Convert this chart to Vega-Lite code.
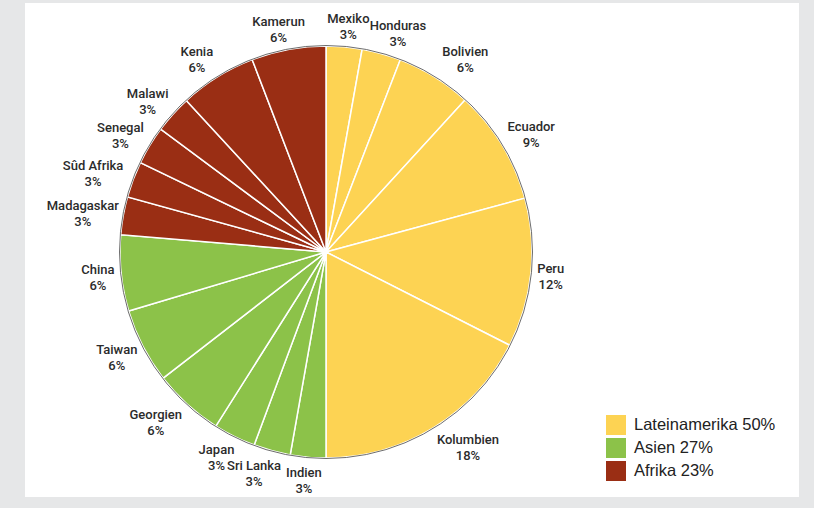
{
  "$schema": "https://vega.github.io/schema/vega-lite/v6.json",
  "width": 774,
  "height": 494,
  "autosize": {"type": "none"},
  "padding": {"left": 25, "top": 3, "right": 15, "bottom": 11},
  "background": "#e6e7e8",
  "view": {"fill": "white", "stroke": null},
  "config": {
    "font": "Liberation Sans"
  },
  "datasets": {
    "shares": [
      {"idx": 1, "land": "Mexiko", "label": "Mexiko\n3%", "share": 2.81, "region": "Lateinamerika 50%"},
      {"idx": 2, "land": "Honduras", "label": "Honduras\n3%", "share": 3.06, "region": "Lateinamerika 50%"},
      {"idx": 3, "land": "Bolivien", "label": "Bolivien\n6%", "share": 5.92, "region": "Lateinamerika 50%"},
      {"idx": 4, "land": "Ecuador", "label": "Ecuador\n9%", "share": 9.0, "region": "Lateinamerika 50%"},
      {"idx": 5, "land": "Peru", "label": "Peru\n12%", "share": 11.69, "region": "Lateinamerika 50%"},
      {"idx": 6, "land": "Kolumbien", "label": "Kolumbien\n18%", "share": 17.52, "region": "Lateinamerika 50%"},
      {"idx": 7, "land": "Indien", "label": "Indien\n3%", "share": 2.78, "region": "Asien 27%"},
      {"idx": 8, "land": "Sri Lanka", "label": "Sri Lanka\n3%", "share": 2.89, "region": "Asien 27%"},
      {"idx": 9, "land": "Japan", "label": "Japan\n3%", "share": 3.31, "region": "Asien 27%"},
      {"idx": 10, "land": "Georgien", "label": "Georgien\n6%", "share": 5.53, "region": "Asien 27%"},
      {"idx": 11, "land": "Taiwan", "label": "Taiwan\n6%", "share": 5.86, "region": "Asien 27%"},
      {"idx": 12, "land": "China", "label": "China\n6%", "share": 5.97, "region": "Asien 27%"},
      {"idx": 13, "land": "Madagaskar", "label": "Madagaskar\n3%", "share": 2.97, "region": "Afrika 23%"},
      {"idx": 14, "land": "Süd Afrika", "label": "Sûd Afrika\n3%", "share": 2.83, "region": "Afrika 23%"},
      {"idx": 15, "land": "Senegal", "label": "Senegal\n3%", "share": 3.03, "region": "Afrika 23%"},
      {"idx": 16, "land": "Malawi", "label": "Malawi\n3%", "share": 2.97, "region": "Afrika 23%"},
      {"idx": 17, "land": "Kenia", "label": "Kenia\n6%", "share": 6.03, "region": "Afrika 23%"},
      {"idx": 18, "land": "Kamerun", "label": "Kamerun\n6%", "share": 5.83, "region": "Afrika 23%"}
    ],
    "ring": [{"k": 1}]
  },
  "layer": [
    {
      "data": {"name": "shares"},
      "mark": {"type": "arc", "outerRadius": 206, "stroke": "white", "strokeWidth": 1.5, "x": 301, "y": 249},
      "encoding": {
        "theta": {"field": "share", "type": "quantitative", "stack": true},
        "order": {"field": "idx", "type": "quantitative", "sort": "ascending"},
        "color": {
          "field": "region",
          "type": "nominal",
          "scale": {
            "domain": ["Lateinamerika 50%", "Asien 27%", "Afrika 23%"],
            "range": ["#FDD353", "#8CC249", "#9A2E14"]
          },
          "legend": {
            "title": null,
            "orient": "none",
            "legendX": 581,
            "legendY": 412,
            "symbolType": "square",
            "symbolSize": 400,
            "symbolStrokeWidth": 0,
            "symbolOpacity": 1,
            "labelFontSize": 16.5,
            "labelColor": "#222222",
            "labelFont": "Liberation Sans",
            "labelOffset": 8,
            "rowPadding": 3,
            "labelLimit": 300
          }
        }
      }
    },
    {
      "data": {"name": "ring"},
      "mark": {"type": "arc", "outerRadius": 206.5, "fill": null, "fillOpacity": 0, "stroke": "#6d6d6d", "strokeWidth": 1, "x": 301, "y": 249},
      "encoding": {}
    },
    {
      "data": {"name": "shares"},
      "mark": {
        "type": "text",
        "radius": 212,
        "x": 301,
        "y": 249,
        "dx": {"expr": "length(datum.land) * 3.45 * clamp(2 * sin(PI * (datum.share_start + datum.share_end) / 100), -1, 1)"},
        "dy": {"expr": "-6 - 16 * cos(PI * (datum.share_start + datum.share_end) / 100)"},
        "lineBreak": "\n",
        "lineHeight": 16,
        "font": "Roboto",
        "fontWeight": 500,
        "fontSize": 13,
        "color": "#2b2b2b",
        "align": "center",
        "baseline": "middle"
      },
      "encoding": {
        "theta": {"field": "share", "type": "quantitative", "stack": true},
        "order": {"field": "idx", "type": "quantitative", "sort": "ascending"},
        "text": {"field": "label", "type": "nominal"}
      }
    }
  ]
}
